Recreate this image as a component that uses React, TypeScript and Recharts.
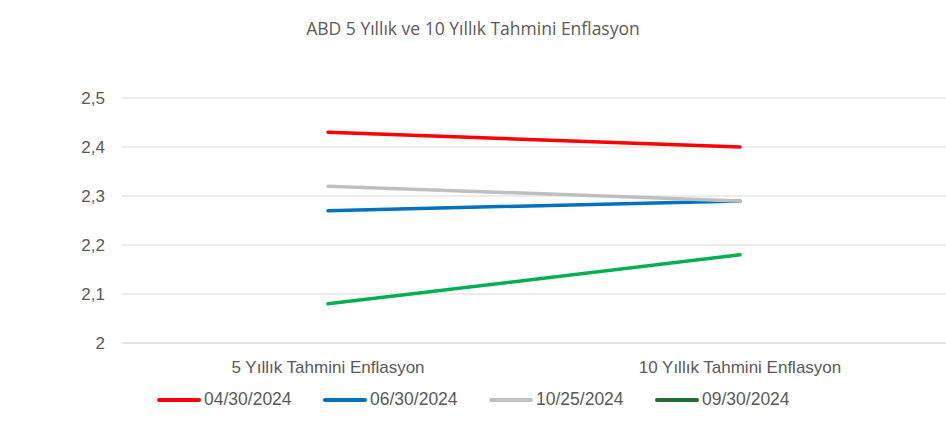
import React from 'react';
import { LineChart, Line, XAxis, YAxis, CartesianGrid, Legend } from 'recharts';

const categories = ['5 Yıllık Tahmini Enflasyon', '10 Yıllık Tahmini Enflasyon'];
const s0430 = [2.43, 2.4];
const s0630 = [2.27, 2.29];
const s1025 = [2.32, 2.29];
const s0930 = [2.08, 2.18];
const yTicks = [2, 2.1, 2.2, 2.3, 2.4, 2.5];
const seriesNames = ['04/30/2024', '06/30/2024', '10/25/2024', '09/30/2024'];
const lineColors = ['#ff0000', '#0070c0', '#bfbfbf', '#00b050'];
const legendColors = ['#ff0000', '#0070c0', '#bfbfbf', '#1f6e2f'];
const title = 'ABD 5 Yıllık ve 10 Yıllık Tahmini Enflasyon';

const seriesValues = [s0430, s0630, s1025, s0930];
const data = categories.map((c, i) => {
  const row: any = { name: c };
  seriesNames.forEach((n, k) => { row[n] = seriesValues[k][i]; });
  return row;
});

const font = '"Liberation Sans", Arial, sans-serif';
const textColor = '#595959';

const LegendContent = () => (
  <div style={{ display: 'flex', justifyContent: 'flex-start', paddingLeft: 156, fontFamily: font, fontSize: 17.5, color: textColor }}>
    {seriesNames.map((n, i) => (
      <div key={n} style={{ display: 'flex', alignItems: 'center', width: 166 }}>
        <svg width={46} height={10} style={{ marginRight: 2 }}>
          <line x1={3} y1={5} x2={43} y2={5} stroke={legendColors[i]} strokeWidth={4} strokeLinecap="round" />
        </svg>
        <span>{n}</span>
      </div>
    ))}
  </div>
);

export default function App() {
  return (
    <div style={{ position: 'absolute', left: 0, top: 0, width: 946, height: 430, background: '#fff' }}>
      <div style={{ position: 'absolute', top: 16, left: 0, width: 946, textAlign: 'center', fontFamily: '"Open Sans", sans-serif', fontSize: 17.5, color: textColor }}>
        {title}
      </div>
      <LineChart width={946} height={430} data={data} margin={{ top: 98, right: 0, bottom: 57, left: 0 }}>
        <CartesianGrid horizontal vertical={false} stroke="#d9d9d9" strokeWidth={1} />
        <XAxis dataKey="name" height={30} axisLine={{ stroke: '#d9d9d9' }} tickLine={false} tickMargin={12}
          padding={{ left: 206, right: 206 }}
          tick={{ fill: textColor, fontSize: 17, fontFamily: font }} interval={0} />
        <YAxis width={122} domain={[2, 2.5]} ticks={yTicks} axisLine={false} tickLine={false} tickMargin={11}
          tick={{ fill: textColor, fontSize: 17, fontFamily: font }}
          tickFormatter={(v: number) => String(v).replace('.', ',')} />
        <Legend layout="horizontal" verticalAlign="middle" align="center" content={<LegendContent />}
          wrapperStyle={{ position: 'absolute', top: 389, left: 0, width: 946 }} />
        {seriesNames.map((n, i) => (
          <Line key={n} dataKey={n} stroke={lineColors[i]} strokeWidth={3.5} strokeLinecap="round" dot={false}
            activeDot={false} isAnimationActive={false} />
        ))}
      </LineChart>
    </div>
  );
}
